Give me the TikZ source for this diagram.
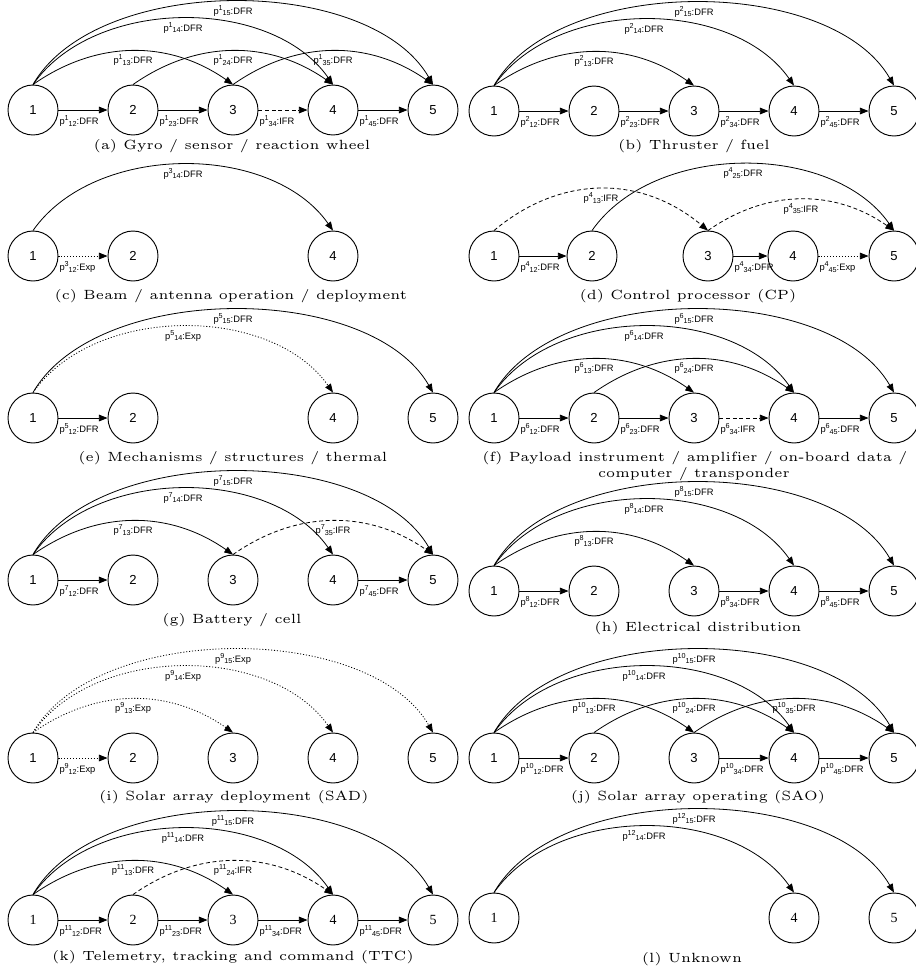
\documentclass[tikz,border=0pt]{standalone}
\usepackage{fontspec}
\newfontfamily\sansf{Liberation Sans}
\newfontfamily\seriff{Liberation Serif}
\font\capfnt=cmr5 at 10pt
\usetikzlibrary{arrows.meta}
\newcommand\elab[3]{{\sansf\fontsize{7}{8}\selectfont p\raisebox{3.1pt}{\fontsize{5.4}{6}\selectfont #1}\raisebox{-1.2pt}{\fontsize{5.4}{6}\selectfont #2}:#3}}
\tikzset{
 nd/.style={circle,draw,line width=0.7pt,minimum size=37.5pt,inner sep=0pt,font=\sansf\fontsize{9.8}{10}\selectfont},
 ndserif/.style={nd,font=\seriff\fontsize{10.5}{11}\selectfont},
 dfr/.style={line width=0.6pt,-{Triangle[length=6.5pt,width=5pt]}},
 ifr/.style={dfr,dash pattern=on 3pt off 2pt},
 expo/.style={dfr,dash pattern=on 0.8pt off 1.4pt},
 slab/.style={pos=0,anchor=north west,inner sep=0.5pt,yshift=-3.5pt},
 alab/.style={pos=0.5,anchor=north,inner sep=0.5pt,yshift=-2pt},
 arctwo/.style={out=35,in=145,looseness=1},
 arcthree/.style={out=55,in=125,looseness=0.92},
 arcfour/.style={out=60,in=120,looseness=0.82},
 captext/.style={font=\capfnt,inner sep=0pt}
}
\begin{document}
\begin{tikzpicture}[x=0.75pt,y=0.75pt]
\useasboundingbox (0,0) rectangle (916,-976);
% ---------- (a)
\foreach \i/\x in {1/33,2/133,3/233,4/333,5/433}{\node[nd] (a\i) at (\x,-110) {\i};}
\draw[dfr] (a1) -- node[slab]{\elab{1}{12}{DFR}} (a2);
\draw[dfr] (a2) -- node[slab]{\elab{1}{23}{DFR}} (a3);
\draw[ifr] (a3) -- node[slab]{\elab{1}{34}{IFR}} (a4);
\draw[dfr] (a4) -- node[slab]{\elab{1}{45}{DFR}} (a5);
\draw[dfr] (a1.north) to[arctwo] node[alab]{\elab{1}{13}{DFR}} (a3.north);
\draw[dfr] (a1.north) to[arcthree] node[alab]{\elab{1}{14}{DFR}} (a4.north);
\draw[dfr] (a1.north) to[arcfour] node[alab]{\elab{1}{15}{DFR}} (a5.north);
\draw[dfr] (a2.north) to[arctwo] node[alab]{\elab{1}{24}{DFR}} (a4.north);
\draw[dfr] (a3.north) to[arctwo] node[alab]{\elab{1}{35}{DFR}} (a5.north);
\node[captext] (capa) at (232,-146) {(a) Gyro / sensor / reaction wheel};
% ---------- (b)
\foreach \i/\x in {1/494,2/594,3/694,4/794,5/894}{\node[nd] (b\i) at (\x,-111) {\i};}
\draw[dfr] (b1) -- node[slab]{\elab{2}{12}{DFR}} (b2);
\draw[dfr] (b2) -- node[slab]{\elab{2}{23}{DFR}} (b3);
\draw[dfr] (b3) -- node[slab]{\elab{2}{34}{DFR}} (b4);
\draw[dfr] (b4) -- node[slab]{\elab{2}{45}{DFR}} (b5);
\draw[dfr] (b1.north) to[arctwo] node[alab]{\elab{2}{13}{DFR}} (b3.north);
\draw[dfr] (b1.north) to[arcthree] node[alab]{\elab{2}{14}{DFR}} (b4.north);
\draw[dfr] (b1.north) to[arcfour] node[alab]{\elab{2}{15}{DFR}} (b5.north);
\node[captext] (capb) at (694,-146) {(b) Thruster / fuel};
% ---------- (c)
\foreach \i/\x in {1/33,2/133,4/333}{\node[nd] (c\i) at (\x,-256) {\i};}
\draw[expo] (c1) -- node[slab]{\elab{3}{12}{Exp}} (c2);
\draw[dfr] (c1.north) to[arcthree] node[alab]{\elab{3}{14}{DFR}} (c4.north);
\node[captext] (capc) at (231,-296) {(c) Beam / antenna operation / deployment};
% ---------- (d)
\foreach \i/\x in {1/494,2/592,3/708,4/793,5/894}{\node[nd] (d\i) at (\x,-256) {\i};}
\draw[dfr] (d1) -- node[slab]{\elab{4}{12}{DFR}} (d2);
\draw[dfr] (d3) -- node[slab]{\elab{4}{34}{DFR}} (d4);
\draw[expo] (d4) -- node[slab]{\elab{4}{45}{Exp}} (d5);
\draw[ifr] (d1.north) to[out=40,in=140,looseness=1.04] node[alab]{\elab{4}{13}{IFR}} (d3.north);
\draw[dfr] (d2.north) to[arcthree] node[alab]{\elab{4}{25}{DFR}} (d5.north);
\draw[ifr] (d3.north) to[arctwo] node[alab]{\elab{4}{35}{IFR}} (d5.north);
\node[captext] (capd) at (688,-296) {(d) Control processor (CP)};
% ---------- (e)
\foreach \i/\x in {1/33,2/133,4/333,5/433}{\node[nd] (e\i) at (\x,-418) {\i};}
\draw[dfr] (e1) -- node[slab]{\elab{5}{12}{DFR}} (e2);
\draw[expo] (e1.north) to[arcthree] node[alab]{\elab{5}{14}{Exp}} (e4.north);
\draw[dfr] (e1.north) to[arcfour] node[alab]{\elab{5}{15}{DFR}} (e5.north);
\node[captext] (cape) at (233,-458) {(e) Mechanisms / structures / thermal};
% ---------- (f)
\foreach \i/\x in {1/494,2/594,3/694,4/794,5/894}{\node[nd] (f\i) at (\x,-418) {\i};}
\draw[dfr] (f1) -- node[slab]{\elab{6}{12}{DFR}} (f2);
\draw[dfr] (f2) -- node[slab]{\elab{6}{23}{DFR}} (f3);
\draw[ifr] (f3) -- node[slab]{\elab{6}{34}{IFR}} (f4);
\draw[dfr] (f4) -- node[slab]{\elab{6}{45}{DFR}} (f5);
\draw[dfr] (f1.north) to[arctwo] node[alab]{\elab{6}{13}{DFR}} (f3.north);
\draw[dfr] (f1.north) to[arcthree] node[alab]{\elab{6}{14}{DFR}} (f4.north);
\draw[dfr] (f1.north) to[arcfour] node[alab]{\elab{6}{15}{DFR}} (f5.north);
\draw[dfr] (f2.north) to[arctwo] node[alab]{\elab{6}{24}{DFR}} (f4.north);
\node[captext] (capf1) at (695,-458) {(f) Payload instrument / amplifier / on-board data /};
\node[captext] (capf2) at (694,-474) {computer / transponder};
% ---------- (g)
\foreach \i/\x in {1/33,2/133,3/233,4/333,5/433}{\node[nd] (g\i) at (\x,-580) {\i};}
\draw[dfr] (g1) -- node[slab]{\elab{7}{12}{DFR}} (g2);
\draw[dfr] (g4) -- node[slab]{\elab{7}{45}{DFR}} (g5);
\draw[dfr] (g1.north) to[arctwo] node[alab]{\elab{7}{13}{DFR}} (g3.north);
\draw[dfr] (g1.north) to[arcthree] node[alab]{\elab{7}{14}{DFR}} (g4.north);
\draw[dfr] (g1.north) to[arcfour] node[alab]{\elab{7}{15}{DFR}} (g5.north);
\draw[ifr] (g3.north) to[arctwo] node[alab]{\elab{7}{35}{IFR}} (g5.north);
\node[captext] (capg) at (232,-620) {(g) Battery / cell};
% ---------- (h)
\foreach \i/\x in {1/494,2/594,3/694,4/794,5/894}{\node[nd] (h\i) at (\x,-591) {\i};}
\draw[dfr] (h1) -- node[slab]{\elab{8}{12}{DFR}} (h2);
\draw[dfr] (h3) -- node[slab]{\elab{8}{34}{DFR}} (h4);
\draw[dfr] (h4) -- node[slab]{\elab{8}{45}{DFR}} (h5);
\draw[dfr] (h1.north) to[arctwo] node[alab]{\elab{8}{13}{DFR}} (h3.north);
\draw[dfr] (h1.north) to[arcthree] node[alab]{\elab{8}{14}{DFR}} (h4.north);
\draw[dfr] (h1.north) to[arcfour] node[alab]{\elab{8}{15}{DFR}} (h5.north);
\node[captext] (caph) at (698,-628) {(h) Electrical distribution};
% ---------- (i)
\foreach \i/\x in {1/33,2/133,3/233,4/333,5/433}{\node[nd] (i\i) at (\x,-758) {\i};}
\draw[expo] (i1) -- node[slab]{\elab{9}{12}{Exp}} (i2);
\draw[expo] (i1.north) to[arctwo] node[alab]{\elab{9}{13}{Exp}} (i3.north);
\draw[expo] (i1.north) to[arcthree] node[alab]{\elab{9}{14}{Exp}} (i4.north);
\draw[expo] (i1.north) to[arcfour] node[alab]{\elab{9}{15}{Exp}} (i5.north);
\node[captext] (capi) at (234,-797) {(i) Solar array deployment (SAD)};
% ---------- (j)
\foreach \i/\x in {1/494,2/594,3/694,4/794,5/894}{\node[nd] (j\i) at (\x,-758) {\i};}
\draw[dfr] (j1) -- node[slab]{\elab{10}{12}{DFR}} (j2);
\draw[dfr] (j3) -- node[slab]{\elab{10}{34}{DFR}} (j4);
\draw[dfr] (j4) -- node[slab]{\elab{10}{45}{DFR}} (j5);
\draw[dfr] (j1.north) to[arctwo] node[alab]{\elab{10}{13}{DFR}} (j3.north);
\draw[dfr] (j1.north) to[arcthree] node[alab]{\elab{10}{14}{DFR}} (j4.north);
\draw[dfr] (j1.north) to[arcfour] node[alab]{\elab{10}{15}{DFR}} (j5.north);
\draw[dfr] (j2.north) to[arctwo] node[alab]{\elab{10}{24}{DFR}} (j4.north);
\draw[dfr] (j3.north) to[arctwo] node[alab]{\elab{10}{35}{DFR}} (j5.north);
\node[captext] (capj) at (698,-797) {(j) Solar array operating (SAO)};
% ---------- (k)
\foreach \i/\x in {1/33,2/133,3/233,4/333,5/433}{\node[ndserif] (k\i) at (\x,-920) {\i};}
\draw[dfr] (k1) -- node[slab]{\elab{11}{12}{DFR}} (k2);
\draw[dfr] (k2) -- node[slab]{\elab{11}{23}{DFR}} (k3);
\draw[dfr] (k3) -- node[slab]{\elab{11}{34}{DFR}} (k4);
\draw[dfr] (k4) -- node[slab]{\elab{11}{45}{DFR}} (k5);
\draw[dfr] (k1.north) to[arctwo] node[alab]{\elab{11}{13}{DFR}} (k3.north);
\draw[dfr] (k1.north) to[arcthree] node[alab]{\elab{11}{14}{DFR}} (k4.north);
\draw[dfr] (k1.north) to[arcfour] node[alab]{\elab{11}{15}{DFR}} (k5.north);
\draw[ifr] (k2.north) to[arctwo] node[alab]{\elab{11}{24}{IFR}} (k4.north);
\node[captext] (capk) at (233,-957) {(k) Telemetry, tracking and command (TTC)};
% ---------- (l)
\foreach \i/\x in {1/494,4/794,5/894}{\node[ndserif] (l\i) at (\x,-918) {\i};}
\draw[dfr] (l1.north) to[arcthree] node[alab]{\elab{12}{14}{DFR}} (l4.north);
\draw[dfr] (l1.north) to[arcfour] node[alab]{\elab{12}{15}{DFR}} (l5.north);
\node[captext] (capl) at (692,-959) {(l) Unknown};
\end{tikzpicture}
\end{document}
